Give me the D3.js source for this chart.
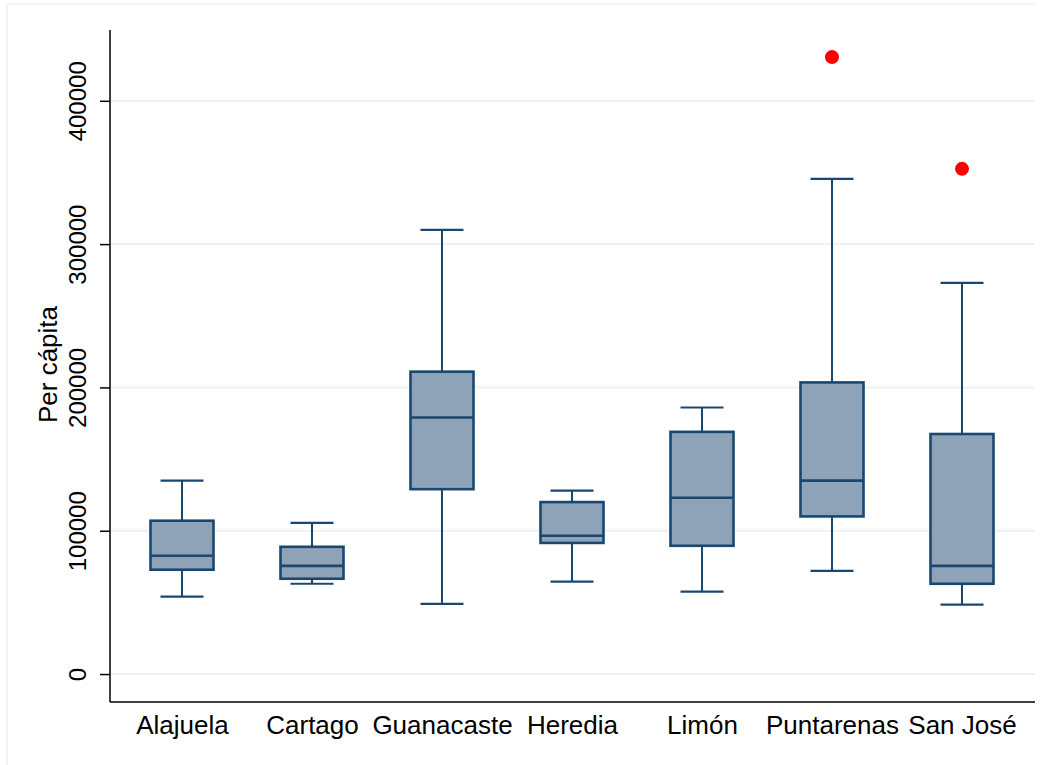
<!DOCTYPE html>
<html>
<head>
<meta charset="utf-8">
<script src="https://cdn.jsdelivr.net/npm/d3@7"></script>
<style>
  html, body { margin: 0; padding: 0; background: #fff; }
  svg { display: block; font-family: "Liberation Sans", Arial, Helvetica, sans-serif; }
</style>
</head>
<body>
<svg id="chart" width="1048" height="765"></svg>
<script>
// Per-capita distribution by province (box plot summary statistics)
const provinces = ["Alajuela", "Cartago", "Guanacaste", "Heredia", "Limón", "Puntarenas", "San José"];
const whiskerLow  = [ 54000,  63000,  49000,  64500,  57500,  72000,  48500];
const q1          = [ 72800,  66500, 129000,  91500,  89500, 110000,  63000];
const medians     = [ 82500,  75500, 179000,  96500, 123000, 135000,  75500];
const q3          = [107000,  88800, 211000, 120000, 169000, 203500, 167500];
const whiskerHigh = [135000, 105500, 310000, 128000, 186000, 345500, 273000];
const outliers    = [[], [], [], [], [], [430500], [352500]];
const yTicks      = [0, 100000, 200000, 300000, 400000];
const yTitle = "Per cápita";

const svg = d3.select("#chart");
const W = 1048, H = 765;
const plot = { left: 110, right: 1035, top: 30, bottom: 702 };

const navy = "#1a476f";
const boxFill = "#8ea3b8";
const gridCol = "#eaf2f3";

// faint outer graph-region frame
svg.append("line").attr("x1", 7).attr("x2", 1035).attr("y1", 4).attr("y2", 4)
  .attr("stroke", gridCol).attr("stroke-width", 1.5);
svg.append("line").attr("x1", 7).attr("x2", 7).attr("y1", 4).attr("y2", H)
  .attr("stroke", gridCol).attr("stroke-width", 1.5);

const y = d3.scaleLinear().domain([-19500, 449400]).range([plot.bottom, plot.top]);
const x = d3.scalePoint().domain(provinces).range([plot.left + 72, plot.right - 73]);

// horizontal gridlines
svg.append("g").selectAll("line").data(yTicks).join("line")
  .attr("x1", plot.left).attr("x2", plot.right)
  .attr("y1", d => y(d)).attr("y2", d => y(d))
  .attr("stroke", gridCol).attr("stroke-width", 2);

// y axis
const yAxis = svg.append("g").attr("transform", `translate(${plot.left},0)`)
  .call(d3.axisLeft(y).tickValues(yTicks).tickFormat(d3.format("d")).tickSize(10).tickPadding(8));
yAxis.select(".domain").attr("d", `M0,${plot.top}V${plot.bottom}`).attr("stroke", "#000").attr("stroke-width", 1.5);
yAxis.selectAll(".tick line").attr("stroke", "#000").attr("stroke-width", 1.5);
yAxis.selectAll(".tick text")
  .attr("font-size", 24).attr("fill", "#000")
  .attr("text-anchor", "middle")
  .attr("transform", "rotate(-90)")
  .attr("x", 0).attr("y", -24).attr("dy", "0");

// x axis
const xAxis = svg.append("g").attr("transform", `translate(0,${plot.bottom})`)
  .call(d3.axisBottom(x).tickSize(0));
xAxis.select(".domain").attr("d", `M${plot.left},0H${plot.right}`).attr("stroke", "#000").attr("stroke-width", 1.5);
xAxis.selectAll(".tick text").attr("font-size", 26).attr("fill", "#000").attr("y", 32).attr("dy", "0");

// y axis title
svg.append("text")
  .attr("transform", `translate(57,${y(216000)}) rotate(-90)`)
  .attr("text-anchor", "middle")
  .attr("font-size", 26).attr("fill", "#000")
  .text(yTitle);

// boxes
const boxW = 63, capW = 43;
const g = svg.append("g");
provinces.forEach((p, i) => {
  const cx = x(p);
  // whiskers
  g.append("line").attr("x1", cx).attr("x2", cx).attr("y1", y(whiskerHigh[i])).attr("y2", y(q3[i]))
    .attr("stroke", navy).attr("stroke-width", 2);
  g.append("line").attr("x1", cx).attr("x2", cx).attr("y1", y(q1[i])).attr("y2", y(whiskerLow[i]))
    .attr("stroke", navy).attr("stroke-width", 2);
  [whiskerHigh[i], whiskerLow[i]].forEach(v => {
    g.append("line").attr("x1", cx - capW / 2).attr("x2", cx + capW / 2)
      .attr("y1", y(v)).attr("y2", y(v)).attr("stroke", navy).attr("stroke-width", 2.2);
  });
  // box
  g.append("rect").attr("x", cx - boxW / 2).attr("width", boxW)
    .attr("y", y(q3[i])).attr("height", y(q1[i]) - y(q3[i]))
    .attr("fill", boxFill).attr("stroke", navy).attr("stroke-width", 2.6);
  // median
  g.append("line").attr("x1", cx - boxW / 2).attr("x2", cx + boxW / 2)
    .attr("y1", y(medians[i])).attr("y2", y(medians[i]))
    .attr("stroke", navy).attr("stroke-width", 2.6);
  // outside values
  outliers[i].forEach(v => {
    g.append("circle").attr("cx", cx).attr("cy", y(v)).attr("r", 7).attr("fill", "#ff0000");
  });
});
</script>
</body>
</html>
